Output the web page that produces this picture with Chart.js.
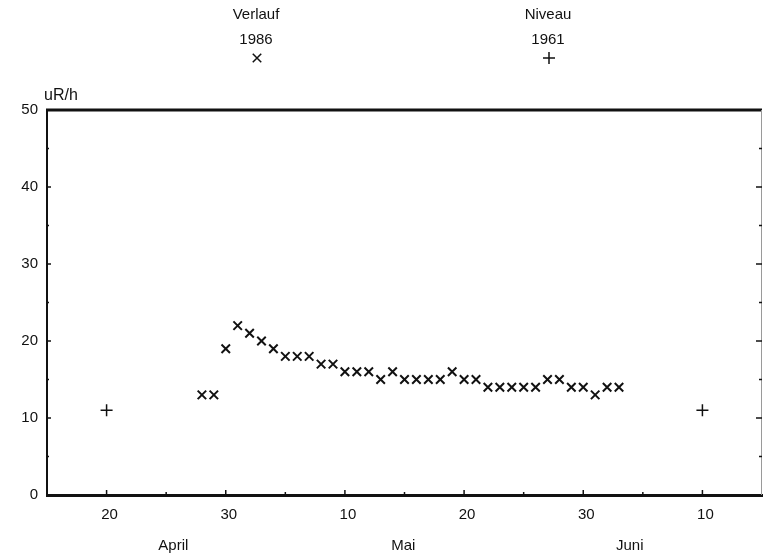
<!DOCTYPE html>
<html>
<head>
<meta charset="utf-8">
<script src="https://cdn.jsdelivr.net/npm/chart.js@4/dist/chart.umd.min.js"></script>
<style>
  html, body { margin: 0; padding: 0; background: #fff; }
  #wrap { width: 763px; height: 558px; position: relative; }
</style>
</head>
<body>
<div id="wrap"><canvas id="c" width="763" height="558"></canvas></div>
<script>
// Day axis: 20..30 = April, 40..60 = Mai (10., 20., 30.), 70 = 10. Juni
const days1986 = [28, 29, 30, 31, 32, 33, 34, 35, 36, 37, 38, 39, 40, 41, 42, 43, 44, 45,
                  46, 47, 48, 49, 50, 51, 52, 53, 54, 55, 56, 57, 58, 59, 60, 61, 62, 63];
const dose1986 = [13, 13, 19, 22, 21, 20, 19, 18, 18, 18, 17, 17, 16, 16, 16, 15, 16, 15,
                  15, 15, 15, 16, 15, 15, 14, 14, 14, 14, 14, 15, 15, 14, 14, 13, 14, 14];
const days1961 = [20, 70];
const dose1961 = [11, 11];

const xTickValues = [20, 30, 40, 50, 60, 70];
const xTickLabels = ['20', '30', '10', '20', '30', '10'];
const yTickValues = [0, 10, 20, 30, 40, 50];
const monthNames = ['April', 'Mai', 'Juni'];

const FONT = '"Liberation Sans", Arial, sans-serif';
const INK = '#111';

// Frame, inward tick marks, month names, unit and key
const decor = {
  id: 'decor',
  afterDraw(chart) {
    const ctx = chart.ctx;
    const xs = chart.scales.x, ys = chart.scales.y;
    const a = chart.chartArea;
    ctx.save();
    ctx.strokeStyle = INK;
    ctx.lineCap = 'butt';

    // top border
    ctx.lineWidth = 3;
    ctx.beginPath(); ctx.moveTo(a.left - 1, a.top); ctx.lineTo(a.right, a.top); ctx.stroke();
    // right border (thin, grey)
    ctx.strokeStyle = '#9a9a9a';
    ctx.lineWidth = 1;
    ctx.beginPath(); ctx.moveTo(a.right - 0.5, a.top); ctx.lineTo(a.right - 0.5, a.bottom); ctx.stroke();

    ctx.strokeStyle = INK;
    ctx.lineWidth = 1.5;
    // bottom axis ticks (pointing up)
    for (let v = 20; v <= 70; v += 5) {
      const px = xs.getPixelForValue(v);
      const len = v % 10 === 0 ? 5 : 3;
      ctx.beginPath(); ctx.moveTo(px, a.bottom); ctx.lineTo(px, a.bottom - len); ctx.stroke();
    }
    // left axis ticks (pointing right)
    for (let v = 5; v < 50; v += 5) {
      const py = ys.getPixelForValue(v);
      const len = v % 10 === 0 ? 4 : 2;
      ctx.beginPath(); ctx.moveTo(a.left, py); ctx.lineTo(a.left + len, py); ctx.stroke();
    }
    // right axis ticks (pointing left)
    for (let v = 5; v < 50; v += 5) {
      const py = ys.getPixelForValue(v);
      const len = v % 10 === 0 ? 6 : 3;
      ctx.beginPath(); ctx.moveTo(a.right, py); ctx.lineTo(a.right - len, py); ctx.stroke();
    }

    ctx.fillStyle = INK;
    ctx.textAlign = 'center';
    ctx.textBaseline = 'middle';
    ctx.font = '15px ' + FONT;
    // month names under the day labels
    const monthAt = [25.6, 44.9, 63.9];
    monthNames.forEach((m, i) => ctx.fillText(m, xs.getPixelForValue(monthAt[i]), 546));

    // unit
    ctx.textAlign = 'left';
    ctx.font = '16px ' + FONT;
    ctx.fillText('uR/h', 44, 96);

    // key above the plot
    ctx.textAlign = 'center';
    ctx.font = '15px ' + FONT;
    const key = [
      { cx: 256, t1: 'Verlauf', t2: '1986', ds: 0 },
      { cx: 548, t1: 'Niveau', t2: '1961', ds: 1 }
    ];
    key.forEach(k => {
      ctx.fillText(k.t1, k.cx, 15);
      ctx.fillText(k.t2, k.cx, 40);
      const d = chart.data.datasets[k.ds];
      Chart.helpers.drawPoint(ctx, {
        pointStyle: d.pointStyle, radius: d.pointRadius, rotation: 0,
        borderWidth: d.borderWidth
      }, k.cx + 1, 58);
    });
    ctx.restore();
  }
};

new Chart(document.getElementById('c'), {
  type: 'scatter',
  data: {
    datasets: [
      {
        label: 'Verlauf 1986',
        data: days1986.map((d, i) => ({ x: d, y: dose1986[i] })),
        pointStyle: 'crossRot',
        pointRadius: 6,
        borderWidth: 2,
        borderColor: INK,
        backgroundColor: INK
      },
      {
        label: 'Niveau 1961',
        data: days1961.map((d, i) => ({ x: d, y: dose1961[i] })),
        pointStyle: 'cross',
        pointRadius: 6,
        borderWidth: 1.5,
        borderColor: INK,
        backgroundColor: INK
      }
    ]
  },
  options: {
    responsive: false,
    animation: false,
    devicePixelRatio: 1,
    layout: { autoPadding: false, padding: { top: 110, right: 1, left: 0, bottom: 0 } },
    plugins: { legend: { display: false }, tooltip: { enabled: false } },
    scales: {
      x: {
        type: 'linear',
        min: 15, max: 75,
        afterFit(s) { s.height = 63; s.paddingLeft = 0; s.paddingRight = 0; },
        afterBuildTicks(s) { s.ticks = xTickValues.map(v => ({ value: v })); },
        grid: { display: false, drawTicks: false },
        border: { display: true, color: INK, width: 3 },
        ticks: {
          autoSkip: false,
          maxRotation: 0,
          padding: 11,
          labelOffset: 3,
          color: INK,
          font: { family: FONT, size: 15 },
          callback: v => {
            const i = xTickValues.indexOf(v);
            return i >= 0 ? xTickLabels[i] : '';
          }
        }
      },
      y: {
        min: 0, max: 50,
        afterFit(s) { s.width = 47; s.paddingTop = 0; s.paddingBottom = 0; },
        afterBuildTicks(s) { s.ticks = yTickValues.map(v => ({ value: v })); },
        grid: { display: false, drawTicks: false },
        border: { display: true, color: INK, width: 2 },
        ticks: {
          padding: 9,
          color: INK,
          font: { family: FONT, size: 15 },
          callback: v => String(v)
        }
      }
    }
  },
  plugins: [decor]
});
</script>
</body>
</html>
